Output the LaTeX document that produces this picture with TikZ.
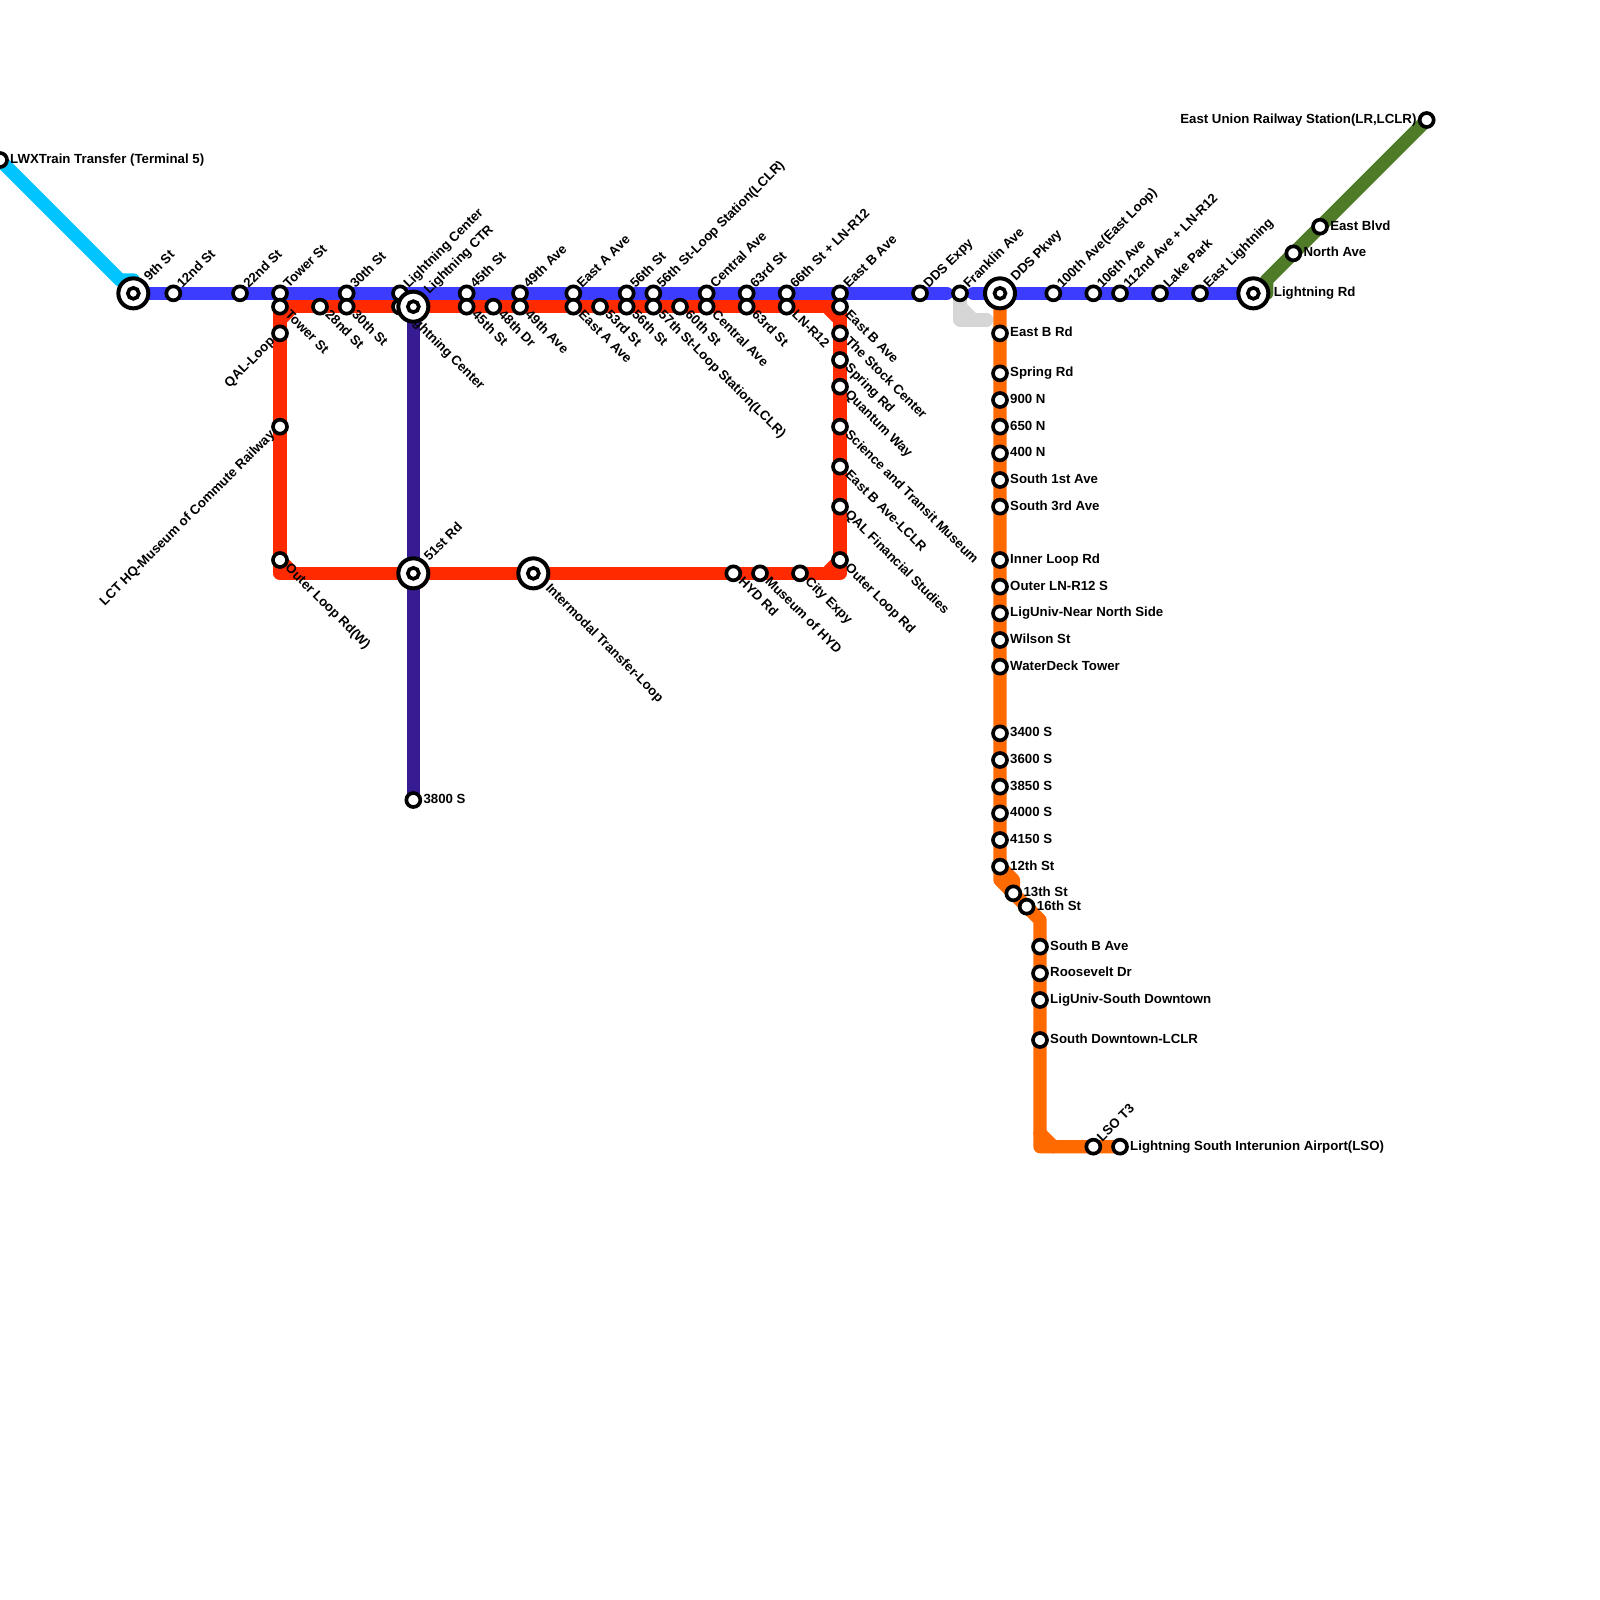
\documentclass[tikz,border=0pt]{standalone}
\usepackage{fontspec}
\setmainfont{Liberation Sans}
\usetikzlibrary{backgrounds}
\definecolor{LineCyan}{HTML}{00C4FF}
\definecolor{LineBlue}{HTML}{3C3CFF}
\definecolor{LineRed}{HTML}{FF2A00}
\definecolor{LinePurple}{HTML}{371B93}
\definecolor{LineOrange}{HTML}{FF6A00}
\definecolor{LineGreen}{HTML}{4F7A28}
\definecolor{LinkGray}{HTML}{D6D6D6}
\begin{document}
\begin{tikzpicture}[x=0.4cm,y=-0.4cm,
  stn/.style={circle,draw=black,fill=white,line width=0.11cm,minimum size=0.42cm,inner sep=0pt},
  hub/.style={circle,draw=black,fill=white,line width=0.12cm,minimum size=0.9cm,inner sep=0pt,
    path picture={\draw[line width=0.11cm] (path picture bounding box.center) circle (0.165cm);}},
  lab/.style={inner sep=0pt,text height=0.72em,text depth=0.2em,font=\fontsize{11.3pt}{13pt}\selectfont\bfseries},
  lrt/.style={lab,anchor=west,xshift=0.3cm,yshift=-0.01cm},
  llf/.style={lab,anchor=east,xshift=-0.3cm,yshift=-0.01cm},
  lne/.style={lab,rotate=45,anchor=west,xshift=0.28cm},
  lse/.style={lab,rotate=-45,anchor=west,xshift=0.28cm},
  lnw/.style={lab,rotate=45,anchor=east,xshift=-0.28cm},
  route/.style={line width=0.4cm,line join=round,line cap=round}]
\useasboundingbox (0,0) rectangle (120,120);
% top row
\node[stn] (lwx) at (0,12) {};
\node[stn] (b12nd) at (13,22) {};
\node[stn] (b22nd) at (18,22) {};
\node[stn] (bTower) at (21,22) {};
\node[stn] (b30th) at (26,22) {};
\node[stn] (bCenter) at (30,22) {};
\node[stn] (b45th) at (35,22) {};
\node[stn] (b49th) at (39,22) {};
\node[stn] (bEastA) at (43,22) {};
\node[stn] (b56th) at (47,22) {};
\node[stn] (b56loop) at (49,22) {};
\node[stn] (bCentral) at (53,22) {};
\node[stn] (b63rd) at (56,22) {};
\node[stn] (b66th) at (59,22) {};
\node[stn] (bEastB) at (63,22) {};
\node[stn] (bExpy) at (69,22) {};
\node[stn] (bFranklin) at (72,22) {};
\node[stn] (b100th) at (79,22) {};
\node[stn] (b106th) at (82,22) {};
\node[stn] (b112nd) at (84,22) {};
\node[stn] (bLake) at (87,22) {};
\node[stn] (bEastL) at (90,22) {};
% red loop
\node[stn] (rTower) at (21,23) {};
\node[stn] (r28nd) at (24,23) {};
\node[stn] (r30th) at (26,23) {};
\node[stn] (rCenter) at (30,23) {};
\node[stn] (r45th) at (35,23) {};
\node[stn] (r48th) at (37,23) {};
\node[stn] (r49th) at (39,23) {};
\node[stn] (rEastA) at (43,23) {};
\node[stn] (r53rd) at (45,23) {};
\node[stn] (r56th) at (47,23) {};
\node[stn] (r57th) at (49,23) {};
\node[stn] (r60th) at (51,23) {};
\node[stn] (rCentral) at (53,23) {};
\node[stn] (r63rd) at (56,23) {};
\node[stn] (rLN) at (59,23) {};
\node[stn] (rEastB) at (63,23) {};
\node[stn] (rStock) at (63,25) {};
\node[stn] (rSpring) at (63,27) {};
\node[stn] (rQuantum) at (63,29) {};
\node[stn] (rScience) at (63,32) {};
\node[stn] (rLCLR) at (63,35) {};
\node[stn] (rQAL) at (63,38) {};
\node[stn] (rOuter) at (63,42) {};
\node[stn] (rCity) at (60,43) {};
\node[stn] (rMuseum) at (57,43) {};
\node[stn] (rHYD) at (55,43) {};
\node[stn] (rOuterW) at (21,42) {};
\node[stn] (rLCT) at (21,32) {};
\node[stn] (rLoop) at (21,25) {};
\node[stn] (p3800) at (31,60) {};
% orange line
\node[stn] (oEastB) at (75,25) {};
\node[stn] (oSpring) at (75,28) {};
\node[stn] (o900) at (75,30) {};
\node[stn] (o650) at (75,32) {};
\node[stn] (o400) at (75,34) {};
\node[stn] (o1st) at (75,36) {};
\node[stn] (o3rd) at (75,38) {};
\node[stn] (oInner) at (75,42) {};
\node[stn] (oOuter) at (75,44) {};
\node[stn] (oNorth) at (75,46) {};
\node[stn] (oWilson) at (75,48) {};
\node[stn] (oDeck) at (75,50) {};
\node[stn] (o3400) at (75,55) {};
\node[stn] (o3600) at (75,57) {};
\node[stn] (o3850) at (75,59) {};
\node[stn] (o4000) at (75,61) {};
\node[stn] (o4150) at (75,63) {};
\node[stn] (o12th) at (75,65) {};
\node[stn] (o13th) at (76,67) {};
\node[stn] (o16th) at (77,68) {};
\node[stn] (oSouthB) at (78,71) {};
\node[stn] (oRoosevelt) at (78,73) {};
\node[stn] (oSouthD) at (78,75) {};
\node[stn] (oLCLR) at (78,78) {};
\node[stn] (oT3) at (82,86) {};
\node[stn] (oAirport) at (84,86) {};
% green line
\node[stn] (gUnion) at (107,9) {};
\node[stn] (gBlvd) at (99,17) {};
\node[stn] (gNorth) at (97,19) {};
% labels
\node[lrt] (tlwx) at (lwx) {LWXTrain Transfer (Terminal 5)};
\node[lne] (t12nd) at (b12nd) {12nd St};
\node[lne] (t22nd) at (b22nd) {22nd St};
\node[lne] (tTower) at (bTower) {Tower St};
\node[lne] (t30th) at (b30th) {30th St};
\node[lne] (tCenter) at (bCenter) {Lightning Center};
\node[lne] (t45th) at (b45th) {45th St};
\node[lne] (t49th) at (b49th) {49th Ave};
\node[lne] (tEastA) at (bEastA) {East A Ave};
\node[lne] (t56th) at (b56th) {56th St};
\node[lne] (t56loop) at (b56loop) {56th St-Loop Station(LCLR)};
\node[lne] (tCentral) at (bCentral) {Central Ave};
\node[lne] (t63rd) at (b63rd) {63rd St};
\node[lne] (t66th) at (b66th) {66th St + LN-R12};
\node[lne] (tEastB) at (bEastB) {East B Ave};
\node[lne] (tExpy) at (bExpy) {DDS Expy};
\node[lne] (tFranklin) at (bFranklin) {Franklin Ave};
\node[lne] (t100th) at (b100th) {100th Ave(East Loop)};
\node[lne] (t106th) at (b106th) {106th Ave};
\node[lne] (t112nd) at (b112nd) {112nd Ave + LN-R12};
\node[lne] (tLake) at (bLake) {Lake Park};
\node[lne] (tEastL) at (bEastL) {East Lightning};
\node[lse] (uTower) at (rTower) {Tower St};
\node[lse] (u28nd) at (r28nd) {28nd St};
\node[lse] (u30th) at (r30th) {30th St};
\node[lse] (uCenter) at (rCenter) {Lightning Center};
\node[lse] (u45th) at (r45th) {45th St};
\node[lse] (u48th) at (r48th) {48th Dr};
\node[lse] (u49th) at (r49th) {49th Ave};
\node[lse] (uEastA) at (rEastA) {East A Ave};
\node[lse] (u53rd) at (r53rd) {53rd St};
\node[lse] (u56th) at (r56th) {56th St};
\node[lse] (u57th) at (r57th) {57th St-Loop Station(LCLR)};
\node[lse] (u60th) at (r60th) {60th St};
\node[lse] (uCentral) at (rCentral) {Central Ave};
\node[lse] (u63rd) at (r63rd) {63rd St};
\node[lse] (uLN) at (rLN) {LN-R12};
\node[lse] (uEastB) at (rEastB) {East B Ave};
\node[lse] (uStock) at (rStock) {The Stock Center};
\node[lse] (uSpring) at (rSpring) {Spring Rd};
\node[lse] (uQuantum) at (rQuantum) {Quantum Way};
\node[lse] (uScience) at (rScience) {Science and Transit Museum};
\node[lse] (uLCLR) at (rLCLR) {East B Ave-LCLR};
\node[lse] (uQAL) at (rQAL) {QAL Financial Studies};
\node[lse] (uOuter) at (rOuter) {Outer Loop Rd};
\node[lse] (uCity) at (rCity) {City Expy};
\node[lse] (uMuseum) at (rMuseum) {Museum of HYD};
\node[lse] (uHYD) at (rHYD) {HYD Rd};
\node[lse] (uOuterW) at (rOuterW) {Outer Loop Rd(W)};
\node[lnw] (uLCT) at (rLCT) {LCT HQ-Museum of Commute Railway};
\node[lnw] (uLoop) at (rLoop) {QAL-Loop};
\node[lrt] (t3800) at (p3800) {3800 S};
\node[lrt] (vEastB) at (oEastB) {East B Rd};
\node[lrt] (vSpring) at (oSpring) {Spring Rd};
\node[lrt] (v900) at (o900) {900 N};
\node[lrt] (v650) at (o650) {650 N};
\node[lrt] (v400) at (o400) {400 N};
\node[lrt] (v1st) at (o1st) {South 1st Ave};
\node[lrt] (v3rd) at (o3rd) {South 3rd Ave};
\node[lrt] (vInner) at (oInner) {Inner Loop Rd};
\node[lrt] (vOuter) at (oOuter) {Outer LN-R12 S};
\node[lrt] (vNorth) at (oNorth) {LigUniv-Near North Side};
\node[lrt] (vWilson) at (oWilson) {Wilson St};
\node[lrt] (vDeck) at (oDeck) {WaterDeck Tower};
\node[lrt] (v3400) at (o3400) {3400 S};
\node[lrt] (v3600) at (o3600) {3600 S};
\node[lrt] (v3850) at (o3850) {3850 S};
\node[lrt] (v4000) at (o4000) {4000 S};
\node[lrt] (v4150) at (o4150) {4150 S};
\node[lrt] (v12th) at (o12th) {12th St};
\node[lrt] (v13th) at (o13th) {13th St};
\node[lrt] (v16th) at (o16th) {16th St};
\node[lrt] (vSouthB) at (oSouthB) {South B Ave};
\node[lrt] (vRoosevelt) at (oRoosevelt) {Roosevelt Dr};
\node[lrt] (vSouthD) at (oSouthD) {LigUniv-South Downtown};
\node[lrt] (vLCLR) at (oLCLR) {South Downtown-LCLR};
\node[lne] (vT3) at (oT3) {LSO T3};
\node[lrt] (vAirport) at (oAirport) {Lightning South Interunion Airport(LSO)};
\node[llf] (tUnion) at (gUnion) {East Union Railway Station(LR,LCLR)};
\node[lrt] (tBlvd) at (gBlvd) {East Blvd};
\node[lrt] (tNorth) at (gNorth) {North Ave};
% big stations go over the labels
\node[hub] (h9th) at (10,22) {};
\node[hub] (hCTR) at (31,23) {};
\node[hub] (h51st) at (31,43) {};
\node[hub] (hLoop) at (40,43) {};
\node[hub] (hPkwy) at (75,22) {};
\node[hub] (hRd) at (94,22) {};
\node[lne,xshift=0.3cm] (t9th) at (h9th) {9th St};
\node[lne,xshift=0.3cm] (tCTR) at (hCTR) {Lightning CTR};
\node[lne,xshift=0.3cm] (t51st) at (h51st) {51st Rd};
\node[lse,xshift=0.3cm] (tLoop) at (hLoop) {Intermodal Transfer-Loop};
\node[lne,xshift=0.3cm] (tPkwy) at (hPkwy) {DDS Pkwy};
\node[lrt,xshift=0.31cm] (tRd) at (hRd) {Lightning Rd};
% corners
\coordinate (cyanA) at (9,21);
\coordinate (cyanB) at (10,21);
\coordinate (blueA) at (71,22);
\coordinate (blueB) at (73,22);
\coordinate (grayA) at (72,23);
\coordinate (grayB) at (73,24);
\coordinate (grayC) at (74,24);
\coordinate (grayD) at (72,24);
\coordinate (redA) at (21,43);
\coordinate (redB) at (63,43);
\coordinate (redC) at (21,24);
\coordinate (redD) at (22,23);
\coordinate (redE) at (62,23);
\coordinate (redF) at (63,24);
\coordinate (redG) at (62,43);
\coordinate (redH) at (22,43);
\coordinate (orgA) at (75,66);
\coordinate (orgB) at (78,69);
\coordinate (orgC) at (78,86);
\coordinate (orgD) at (76,66);
\coordinate (orgE) at (78,85);
\coordinate (orgF) at (79,86);
\coordinate (grnA) at (95,21);
\coordinate (grnB) at (95,22);
\begin{scope}[on background layer]
\draw[route,LineCyan] (lwx.center) -- (cyanA) -- (cyanB) -- (h9th.center);
\draw[route,LineBlue] (h9th.center) -- (blueA);
\draw[route,LineBlue] (blueB) -- (hRd.center);
\draw[route,LinkGray] (bFranklin.center) -- (grayD) -- (grayC);
\draw[route,LinkGray] (grayA) -- (grayB);
\draw[route,LineRed] (rTower.center) -- (rEastB.center) -- (redB) -- (redA) -- cycle;
\draw[route,LineRed] (redC) -- (redD);
\draw[route,LineRed] (redE) -- (redF);
\draw[route,LineRed] (redG) -- (rOuter.center);
\draw[route,LineRed] (redH) -- (rOuterW.center);
\draw[route,LinePurple] (hCTR.center) -- (p3800.center);
\draw[route,LineOrange] (hPkwy.center) -- (orgA) -- (orgB) -- (orgC) -- (oAirport.center);
\draw[route,LineOrange] (o12th.center) -- (orgD) -- (o13th.center);
\draw[route,LineOrange] (orgE) -- (orgF);
\draw[route,LineGreen] (gUnion.center) -- (grnA) -- (grnB) -- (hRd.center);
\end{scope}
\end{tikzpicture}
\end{document}
